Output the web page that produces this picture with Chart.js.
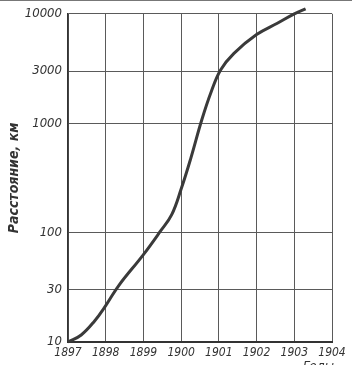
<!DOCTYPE html>
<html>
<head>
<meta charset="utf-8">
<script src="https://cdn.jsdelivr.net/npm/chart.js@4.4.0/dist/chart.umd.min.js"></script>
<style>
    html, body { margin: 0; padding: 0; background: #fff; }
    #wrap { width: 352px; height: 365px; position: relative; }
</style>
</head>
<body>
<div id="wrap"><canvas id="distChart"></canvas></div>
<script>
// годы и расстояние (км)
const years = [1897, 1897.35, 1897.7, 1898, 1898.35, 1899, 1899.45, 1899.75, 1900, 1900.25, 1900.55, 1900.8, 1901.05, 1901.4, 1902, 1902.55, 1903, 1903.3];
const distances = [10, 11.6, 15.5, 21.5, 33, 63, 103, 146, 250, 470, 1080, 1950, 3080, 4350, 6460, 8200, 10000, 11100];
const yearTicks = [1897, 1898, 1899, 1900, 1901, 1902, 1903, 1904];
const distTicks = [10, 30, 100, 1000, 3000, 10000];

const gridColor = '#5a5a5a';
const labelFont = '"Liberation Sans Narrow", "DejaVu Sans Condensed", sans-serif';

const extras = {
    id: 'extras',
    afterDraw(chart) {
        const c = chart.ctx;
        c.save();
        c.fillStyle = '#777';
        c.fillRect(0, 0, chart.width, 1);
        c.fillStyle = '#333';
        c.font = 'italic 13px ' + labelFont;
        c.textBaseline = 'alphabetic';
        c.fillText('Годы', 303, 370);
        c.restore();
    }
};

document.addEventListener("DOMContentLoaded", function () {
    const ctx = document.getElementById('distChart').getContext('2d');
    new Chart(ctx, {
        type: 'line',
        data: {
            datasets: [{
                data: years.map((y, i) => ({ x: y, y: distances[i] })),
                borderColor: '#3a3a3a',
                borderWidth: 3,
                pointRadius: 0,
                tension: 0.4,
                clip: false,
                fill: false
            }]
        },
        options: {
            responsive: true,
            maintainAspectRatio: false,
            animation: false,
            layout: { padding: { top: 10, right: 20, left: 0, bottom: 0 } },
            plugins: {
                legend: { display: false },
                tooltip: { enabled: false }
            },
            scales: {
                x: {
                    type: 'linear',
                    min: 1897,
                    max: 1904,
                    afterBuildTicks: axis => { axis.ticks = yearTicks.map(v => ({ value: v })); },
                    afterFit: axis => { axis.height = 23; },
                    grid: { color: gridColor, lineWidth: 1, drawTicks: false },
                    border: { color: '#333', width: 2 },
                    ticks: {
                        padding: 4,
                        color: '#333',
                        font: { family: labelFont, size: 12, style: 'italic' },
                        callback: v => String(v)
                    }
                },
                y: {
                    type: 'logarithmic',
                    min: 10,
                    max: 10000,
                    afterBuildTicks: axis => { axis.ticks = distTicks.map(v => ({ value: v })); },
                    afterFit: axis => { axis.width = 68; },
                    grid: { color: gridColor, lineWidth: 1, drawTicks: false },
                    border: { color: '#333', width: 1.5 },
                    ticks: {
                        padding: 6,
                        color: '#333',
                        font: { family: labelFont, size: 13, style: 'italic' },
                        callback: v => String(v)
                    },
                    title: {
                        display: true,
                        text: 'Расстояние, км',
                        color: '#333',
                        padding: { top: 6, bottom: 0 },
                        font: { family: labelFont, size: 14, style: 'italic', weight: 'bold' }
                    }
                }
            }
        },
        plugins: [extras]
    });
});
</script>
</body>
</html>
